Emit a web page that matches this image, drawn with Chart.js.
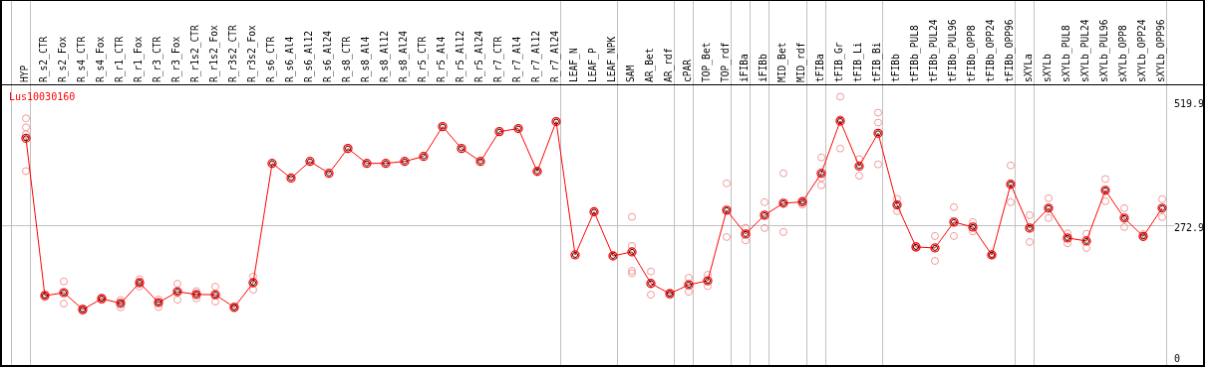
<!DOCTYPE html>
<html>
<head>
<meta charset="utf-8">
<script src="https://cdn.jsdelivr.net/npm/chart.js@4/dist/chart.umd.min.js"></script>
<style>
  body { margin: 0; background: #fff; }
  #chart { display: block; border-style: solid; border-color: #000; border-width: 1px 2px 2px 2px; }
</style>
</head>
<body>
<canvas id="chart" width="1205" height="367"></canvas>
<script>
const geneName = "Lus10030160";

const categories = [
  "HYP", "R_s2_CTR", "R_s2_Fox", "R_s4_CTR", "R_s4_Fox", "R_r1_CTR", "R_r1_Fox",
  "R_r3_CTR", "R_r3_Fox", "R_r1s2_CTR", "R_r1s2_Fox", "R_r3s2_CTR", "R_r3s2_Fox",
  "R_s6_CTR", "R_s6_Al4", "R_s6_Al12", "R_s6_Al24", "R_s8_CTR", "R_s8_Al4",
  "R_s8_Al12", "R_s8_Al24", "R_r5_CTR", "R_r5_Al4", "R_r5_Al12", "R_r5_Al24",
  "R_r7_CTR", "R_r7_Al4", "R_r7_Al12", "R_r7_Al24", "LEAF_N", "LEAF_P", "LEAF_NPK",
  "SAM", "AR_Bet", "AR_rdf", "cPAR", "TOP_Bet", "TOP_rdf", "iFIBa", "iFIBb",
  "MID_Bet", "MID_rdf", "tFIBa", "tFIB_Gr", "tFIB_Li", "tFIB_Bi", "tFIBb",
  "tFIBb_PUL8", "tFIBb_PUL24", "tFIBb_PUL96", "tFIBb_OPP8", "tFIBb_OPP24", "tFIBb_OPP96",
  "sXYLa", "sXYLb", "sXYLb_PUL8", "sXYLb_PUL24", "sXYLb_PUL96", "sXYLb_OPP8",
  "sXYLb_OPP24", "sXYLb_OPP96"
];

// mean expression per sample
const meanValues = [
  447.5, 133.4, 139.3, 105.6, 127.4, 118.1, 159.2, 119.5, 141.3, 135.9, 135.3, 110.1, 159.2,
  397.3, 368.1, 401.3, 377.5, 427.1, 397.3, 397.3, 401.3, 411.2, 470.7, 427.1, 401.3,
  460.8, 466.8, 381.4, 480.7, 214.7, 300.7, 212.7,
  220.7, 157.8, 137.3, 155.2, 163.1, 304.0, 256.4, 294.1, 317.9, 320.5,
  377.5, 481.8, 391.9, 457.4, 314.5,
  230.6, 228.6, 280.2, 270.3, 214.7, 355.6,
  268.3, 308.0, 248.5, 242.5, 343.7, 288.2, 251.6, 308.0
];

// individual replicates per sample
const replicates = [
  [487.2, 469.3, 455.4, 382.0], [135.9, 131.0], [161.7, 117.5], [108.2, 103.2],
  [130.0, 125.0], [124.6, 110.1], [166.3, 151.8], [126.0, 110.7], [157.2, 125.4],
  [142.5, 128.0], [151.2, 121.5], [112.1, 108.2], [171.7, 145.3],
  [], [], [], [], [], [], [], [], [], [], [], [], [], [], [], [],
  [], [], [],
  [290.7, 232.6, 183.0, 178.2], [181.6, 135.3], [139.9, 134.9], [169.1, 141.3],
  [175.0, 152.4], [357.6, 250.4], [268.9, 243.7], [319.9, 268.3], [377.5, 260.4],
  [323.1, 315.1], [409.2, 368.1, 353.6], [530.3, 485.2, 427.1], [405.8, 372.7],
  [498.5, 478.7, 395.3], [326.5, 302.0],
  [232.6, 228.6], [252.4, 202.8], [310.0, 252.4], [280.2, 261.6], [216.3, 213.3], [393.3, 319.9],
  [294.1, 240.5], [327.8, 288.2], [257.6, 237.7], [257.0, 228.6], [366.1, 321.9],
  [308.0, 270.3], [256.4, 250.0], [325.9, 290.1]
];

const yTicks = [0, 272.9, 519.9];
const refLine = 272.9;
// sample index where a new group starts (separator lines)
const groupBreaks = [0, 1, 29, 32, 35, 36, 38, 39, 40, 42, 43, 46, 53, 54, 61];

const X_MIN = -24 / 19;
const X_MAX = 1152 / 19;
const SLOT_SHIFT = 14.9 / 19;
const Y_MIN = -5;
const Y_MAX = 555;
const HEADER_H = 84;
const monoFont = { family: "'DejaVu Sans Mono', monospace", size: 10 };
const labelFont = { family: "'DejaVu Sans Mono', monospace", size: 9.6 };

const meanPoints = meanValues.map((v, i) => ({ x: i, y: v }));
const repPoints = [];
replicates.forEach((reps, i) => {
  reps.forEach((v) => repPoints.push({ x: i, y: v }));
});

function noPadX(s, h) {
  s.height = h;
  s.paddingLeft = 0;
  s.paddingRight = 0;
}

// header rule and gene name in the corner
const frame = {
  id: "frame",
  afterDraw(chart) {
    const ctx = chart.ctx;
    const area = chart.chartArea;
    ctx.save();
    ctx.fillStyle = "#000";
    ctx.fillRect(0, area.top, chart.width, 1);
    ctx.fillStyle = "#ff0000";
    ctx.font = "10px 'DejaVu Sans Mono', monospace";
    ctx.textBaseline = "alphabetic";
    ctx.fillText(geneName, area.left + 7, area.top + 16);
    ctx.restore();
  }
};

new Chart(document.getElementById("chart"), {
  type: "line",
  data: {
    datasets: [
      {
        data: meanPoints,
        xAxisID: "x",
        yAxisID: "y",
        borderColor: "#ff0000",
        borderWidth: 1,
        pointRadius: 2.5,
        pointBorderColor: "#300000",
        pointBackgroundColor: "rgba(0,0,0,0)",
        pointBorderWidth: 1,
        showLine: false
      },
      {
        data: meanPoints,
        xAxisID: "x",
        yAxisID: "y",
        borderColor: "#ff0000",
        borderWidth: 1,
        tension: 0,
        pointRadius: 4,
        pointBorderColor: "#ff0000",
        pointBackgroundColor: "rgba(0,0,0,0)",
        pointBorderWidth: 1.3
      },
      {
        data: repPoints,
        xAxisID: "x",
        yAxisID: "y",
        showLine: false,
        pointRadius: 3.5,
        pointBorderColor: "#ef9a9a",
        pointBackgroundColor: "rgba(0,0,0,0)",
        pointBorderWidth: 1
      }
    ]
  },
  options: {
    responsive: false,
    animation: false,
    layout: { padding: 0, autoPadding: false },
    plugins: { legend: { display: false }, tooltip: { enabled: false } },
    scales: {
      x: {
        type: "linear",
        position: "top",
        weight: 1,
        min: X_MIN,
        max: X_MAX,
        afterBuildTicks: (s) => { s.ticks = categories.map((c, i) => ({ value: i })); },
        afterFit: (s) => noPadX(s, HEADER_H),
        grid: { display: false, drawTicks: false },
        border: { display: false },
        ticks: {
          autoSkip: false,
          minRotation: 90,
          maxRotation: 90,
          padding: 2,
          labelOffset: 11.5,
          color: "#000",
          font: labelFont,
          callback: (v, i) => categories[i]
        }
      },
      xsep: {
        type: "linear",
        position: "top",
        weight: 0,
        min: X_MIN,
        max: X_MAX,
        afterBuildTicks: (s) => { s.ticks = groupBreaks.map((k) => ({ value: k - SLOT_SHIFT })); },
        afterFit: (s) => noPadX(s, 0),
        ticks: { display: false },
        grid: { color: "#c0c0c0", lineWidth: 1, drawTicks: true, tickLength: HEADER_H },
        border: { display: false }
      },
      y: {
        type: "linear",
        position: "right",
        min: Y_MIN,
        max: Y_MAX,
        afterBuildTicks: (s) => { s.ticks = yTicks.map((v) => ({ value: v })); },
        afterFit: (s) => {
          s.width = 29;
          s.paddingTop = 0;
          s.paddingBottom = 0;
        },
        grid: {
          drawTicks: false,
          color: (c) => (c.tick && c.tick.value === refLine ? "#c0c0c0" : "rgba(0,0,0,0)")
        },
        border: { display: false },
        ticks: {
          align: "start",
          padding: 0,
          labelOffset: -2,
          color: "#000",
          font: monoFont,
          // the bottom label is lifted one half line so it stays inside the frame
          callback: (v) => (v === 0 ? ["0", ""] : String(v))
        }
      }
    }
  },
  plugins: [frame]
});
</script>
</body>
</html>
